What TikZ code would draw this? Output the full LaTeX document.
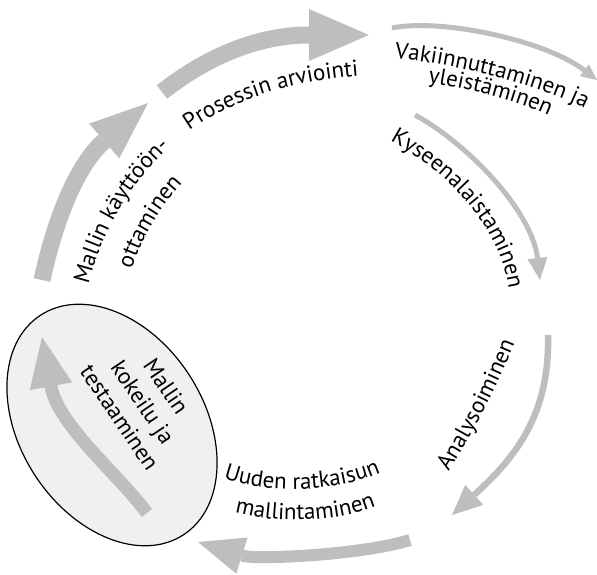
\documentclass[tikz,border=0pt]{standalone}
\usepackage{fontspec}
\setmainfont{PT Sans}
\usetikzlibrary{arrows.meta,decorations.text,shapes.geometric}
\definecolor{flowgray}{HTML}{BDBEC0}
\definecolor{trialbg}{HTML}{F0F0F0}
\newcommand{\labelfont}{\fontsize{23}{28}\selectfont}
\newcommand{\arclabel}[2]{\path[decorate,decoration={text along path,text align=center,text={|\labelfont|#2}}] #1;}
\newcommand{\head}[2]{-{Triangle[length=#1pt,width=#2pt,line width=0pt]}}
\begin{document}
\begin{tikzpicture}[x=1pt,y=-1pt,flow/.style={flowgray,line width=#1}]
\useasboundingbox (0,0) rectangle (597,575);
\node[ellipse,draw,fill=trialbg,line width=1.2pt,minimum width=262pt,minimum height=184pt,rotate=-57] (trial) at (112,425) {};
\coordinate (useS) at (42,280); \coordinate (useE) at (148,103);
\coordinate (evalS) at (162,92); \coordinate (evalE) at (369,35);
\coordinate (fixS) at (392,28); \coordinate (fixE) at (597,80);
\coordinate (askS) at (415,115); \coordinate (askE) at (540,280);
\coordinate (anaS) at (548,335); \coordinate (anaE) at (452,515);
\coordinate (modS) at (410,540); \coordinate (modE) at (198,542);
\coordinate (testS) at (147,513); \coordinate (testE) at (42,337);
\draw[flow=17pt,\head{58}{46}] (useS) .. controls (57,211) and (80,162) .. (useE);
\draw[flow=17pt,\head{60}{52}] (evalS) .. controls (209,55) and (260,35) .. (evalE);
\draw[flow=5pt,\head{16}{15}] (fixS) .. controls (440,18) and (545,40) .. (fixE);
\draw[flow=5pt,\head{22}{20}] (askS) .. controls (468,144) and (532,211) .. (askE);
\draw[flow=6.5pt,\head{30}{27}] (anaS) .. controls (550,415) and (515,458) .. (anaE);
\draw[flow=12pt,\head{46}{38}] (modS) .. controls (362,555) and (256,560) .. (modE);
\draw[flow=13pt,\head{50}{43}] (testS) .. controls (117,473) and (58,425) .. (testE);
\node[rotate=-56,align=center,font=\labelfont] (trialtext) at (143,402) {Mallin\\kokeilu ja\\testaaminen};
\arclabel{(180,137) .. controls (230,100) and (290,80) .. (370,75)}{Prosessin arviointi}
\arclabel{(387,58) .. controls (442,61) and (542,84) .. (592,112)}{Vakiinnuttaminen ja}
\arclabel{(418,81) .. controls (463,87) and (518,100) .. (558,120)}{yleistäminen}
\arclabel{(380,135) .. controls (440,165) and (505,225) .. (510,300)}{Kyseenalaistaminen}
\arclabel{(438,488) .. controls (472,437) and (500,382) .. (522,325)}{Analysoiminen}
\arclabel{(213,474) .. controls (258,495) and (338,495) .. (391,468)}{Uuden ratkaisun}
\arclabel{(220,508) .. controls (265,525) and (345,525) .. (390,500)}{mallintaminen}
\arclabel{(86,295) .. controls (98,240) and (125,185) .. (178,140)}{Mallin käyttöön-}
\arclabel{(128,280) .. controls (140,240) and (160,205) .. (190,175)}{ottaminen}
\end{tikzpicture}
\end{document}
